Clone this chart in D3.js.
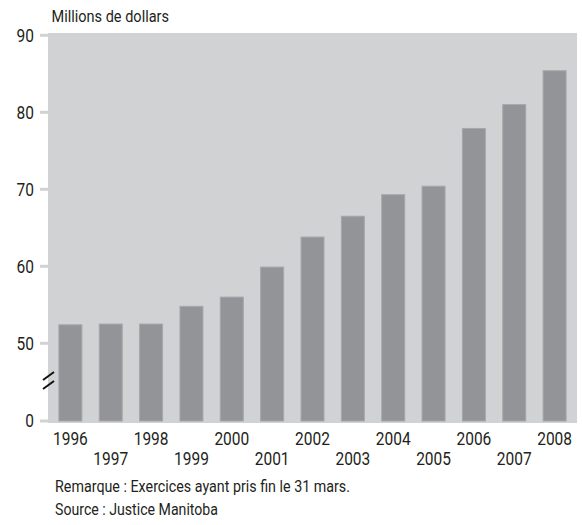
<!DOCTYPE html>
<html>
<head>
<meta charset="utf-8">
<script src="https://cdn.jsdelivr.net/npm/d3@7/dist/d3.min.js"></script>
<style>
  html, body { margin: 0; padding: 0; background: #ffffff; }
  svg { display: block; }
  text { font-family: Roboto, "Liberation Sans", sans-serif; font-weight: 400; fill: #231f20; }
</style>
</head>
<body>
<svg id="chart" width="582" height="525"></svg>
<script>
const years = ["1996","1997","1998","1999","2000","2001","2002","2003","2004","2005","2006","2007","2008"];
const values = [52.4, 52.5, 52.5, 54.8, 56.0, 59.9, 63.8, 66.5, 69.3, 70.4, 77.9, 81.0, 85.4];
const yTicks = [0, 50, 60, 70, 80, 90];
const unitLabel = "Millions de dollars";
const notes = ["Remarque : Exercices ayant pris fin le 31 mars.", "Source : Justice Manitoba"];

const svg = d3.select("#chart");
const plot = { left: 48, right: 577, top: 33, bottom: 423 };

const x = d3.scaleBand().domain(years).range([plot.left, plot.right]).paddingInner(0.43).paddingOuter(0.27);
const y = d3.scaleLinear().domain([0, 50, 90]).range([421, 343.3, 35.3]);

const digitW = 8.7;

// background
svg.append("rect")
  .attr("x", plot.left).attr("y", plot.top)
  .attr("width", plot.right - plot.left).attr("height", plot.bottom - plot.top)
  .attr("fill", "#d1d2d4");

// y ticks
const ty = svg.append("g");
ty.selectAll("line").data(yTicks).join("line")
  .attr("x1", 40).attr("x2", plot.left)
  .attr("y1", d => y(d)).attr("y2", d => y(d))
  .attr("stroke", "#d1d2d4").attr("stroke-width", 3);
ty.selectAll("text").data(yTicks).join("text")
  .attr("x", 34).attr("y", d => y(d)).attr("dy", "0.36em")
  .attr("text-anchor", "end").attr("font-size", 18)
  .attr("textLength", d => String(d).length * digitW).attr("lengthAdjust", "spacingAndGlyphs")
  .text(d => d);

// bars
svg.append("g").selectAll("rect").data(years).join("rect")
  .attr("x", d => x(d))
  .attr("width", x.bandwidth())
  .attr("y", (d, i) => y(values[i]))
  .attr("height", (d, i) => y(0) - y(values[i]))
  .attr("fill", "#939497")
  .attr("stroke", "#a6a7aa").attr("stroke-width", 1);

// x labels
svg.append("g").selectAll("text").data(years).join("text")
  .attr("x", d => x(d) + x.bandwidth() / 2)
  .attr("y", (d, i) => i % 2 === 0 ? 445 : 465)
  .attr("text-anchor", "middle").attr("font-size", 18)
  .attr("textLength", d => d.length * digitW).attr("lengthAdjust", "spacingAndGlyphs")
  .text(d => d);

// axis break marks
const brk = svg.append("g").attr("stroke", "#111").attr("stroke-width", 2);
[0, 9].forEach(off => {
  brk.append("line").attr("x1", 43).attr("y1", 380 + off).attr("x2", 54).attr("y2", 372 + off);
});

// title
svg.append("text").attr("x", 51.5).attr("y", 21.5).attr("font-size", 16.5)
  .attr("textLength", 117.5).attr("lengthAdjust", "spacingAndGlyphs")
  .text(unitLabel);

// notes
const noteW = [295, 163];
svg.append("g").selectAll("text").data(notes).join("text")
  .attr("x", 55).attr("y", (d, i) => 492 + i * 22.5)
  .attr("font-size", 16.5)
  .attr("textLength", (d, i) => noteW[i]).attr("lengthAdjust", "spacingAndGlyphs")
  .text(d => d);
</script>
</body>
</html>
